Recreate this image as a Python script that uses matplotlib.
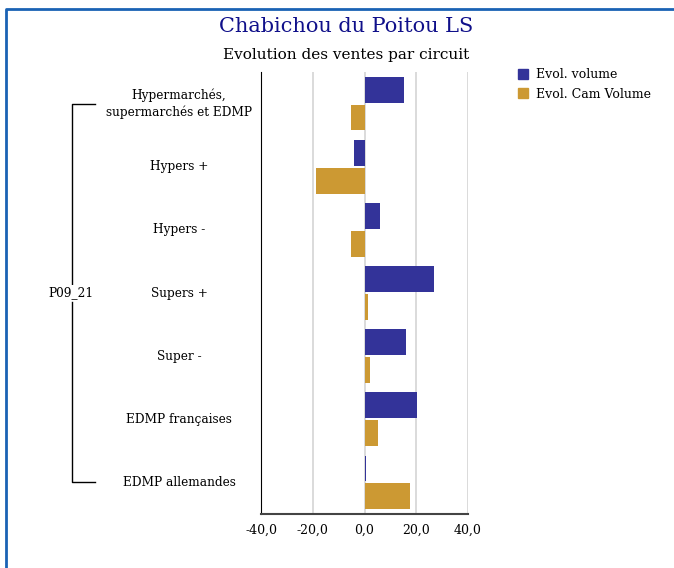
import numpy as np
import matplotlib
matplotlib.use('Agg')
import matplotlib.pyplot as plt
from matplotlib.patches import Patch
from matplotlib.lines import Line2D

plt.rcParams['font.family'] = ['DejaVu Serif']

# donnees
circuits = ['Hypermarchés,\nsupermarchés et EDMP', 'Hypers +', 'Hypers -', 'Supers +',
            'Super -', 'EDMP françaises', 'EDMP allemandes']
evol_volume = [15.2, -4.2, 5.9, 26.8, 16.0, 20.2, 0.4]
evol_cam_volume = [-5.3, -18.8, -5.3, 1.2, 2.0, 5.1, 17.5]
periode = 'P09_21'
xticks = [-40, -20, 0, 20, 40]
xticklabels = ['-40,0', '-20,0', '0,0', '20,0', '40,0']

c_vol = '#333399'
c_cam = '#cc9933'

W, H = 674, 568
fig = plt.figure(figsize=(W/100, H/100), dpi=100)
ax = fig.add_axes([261/W, 1-514/H, (468-261)/W, (514-72)/H])

y = np.arange(len(circuits))
ax.barh(y-0.22, evol_volume, height=0.41, color=c_vol, zorder=3)
ax.barh(y+0.22, evol_cam_volume, height=0.41, color=c_cam, zorder=3)

ax.set_xlim(-40, 40)
ax.set_ylim(len(circuits)-0.5, -0.5)
ax.set_xticks(xticks)
ax.set_xticklabels(xticklabels, fontsize=9)
ax.tick_params(axis='x', length=0, pad=7)
ax.set_yticks([])
ax.grid(axis='x', color='#d4d4d4', linewidth=1.2, zorder=0)
for s in ['top', 'right']:
    ax.spines[s].set_visible(False)
ax.spines['left'].set_color('black')
ax.spines['bottom'].set_color('#444444')
ax.spines['bottom'].set_linewidth(1.5)

tr = ax.get_yaxis_transform()
for i, c in enumerate(circuits):
    ax.text((179-261)/207, i, c, transform=tr, ha='center', va='center',
            fontsize=8.7, linespacing=1.3, clip_on=False)

# accolade de gauche
bx = (72-261)/207
ex = (95-261)/207
mid = (len(circuits)-1)/2
ax.add_line(Line2D([ex, bx, bx], [0, 0, mid-0.15], transform=tr, color='black', lw=1, clip_on=False))
ax.add_line(Line2D([ex, bx, bx], [len(circuits)-1, len(circuits)-1, mid+0.15], transform=tr, color='black', lw=1, clip_on=False))
ax.text((71-261)/207, mid, periode, transform=tr, ha='center', va='center', fontsize=8.7, clip_on=False,
        bbox=dict(facecolor='white', edgecolor='none', pad=1))

fig.text(346/W, 1-27/H, 'Chabichou du Poitou LS', ha='center', va='center', fontsize=15, color='#10108a')
fig.text(346/W, 1-55/H, 'Evolution des ventes par circuit', ha='center', va='center', fontsize=11)

handles = [Patch(color=c_vol, label='Evol. volume'), Patch(color=c_cam, label='Evol. Cam Volume')]
fig.legend(handles=handles, loc='upper left', bbox_to_anchor=(507/W, 1-57/H), frameon=False,
           fontsize=9, handlelength=0.8, handleheight=0.8, handletextpad=0.6, labelspacing=0.5)

# cadre bleu
fig.add_artist(Line2D([6/W, 6/W, 1], [0, 1-8.5/H, 1-8.5/H], transform=fig.transFigure, color='#1a62b4', lw=2))

fig.savefig('out.png', dpi=100)
